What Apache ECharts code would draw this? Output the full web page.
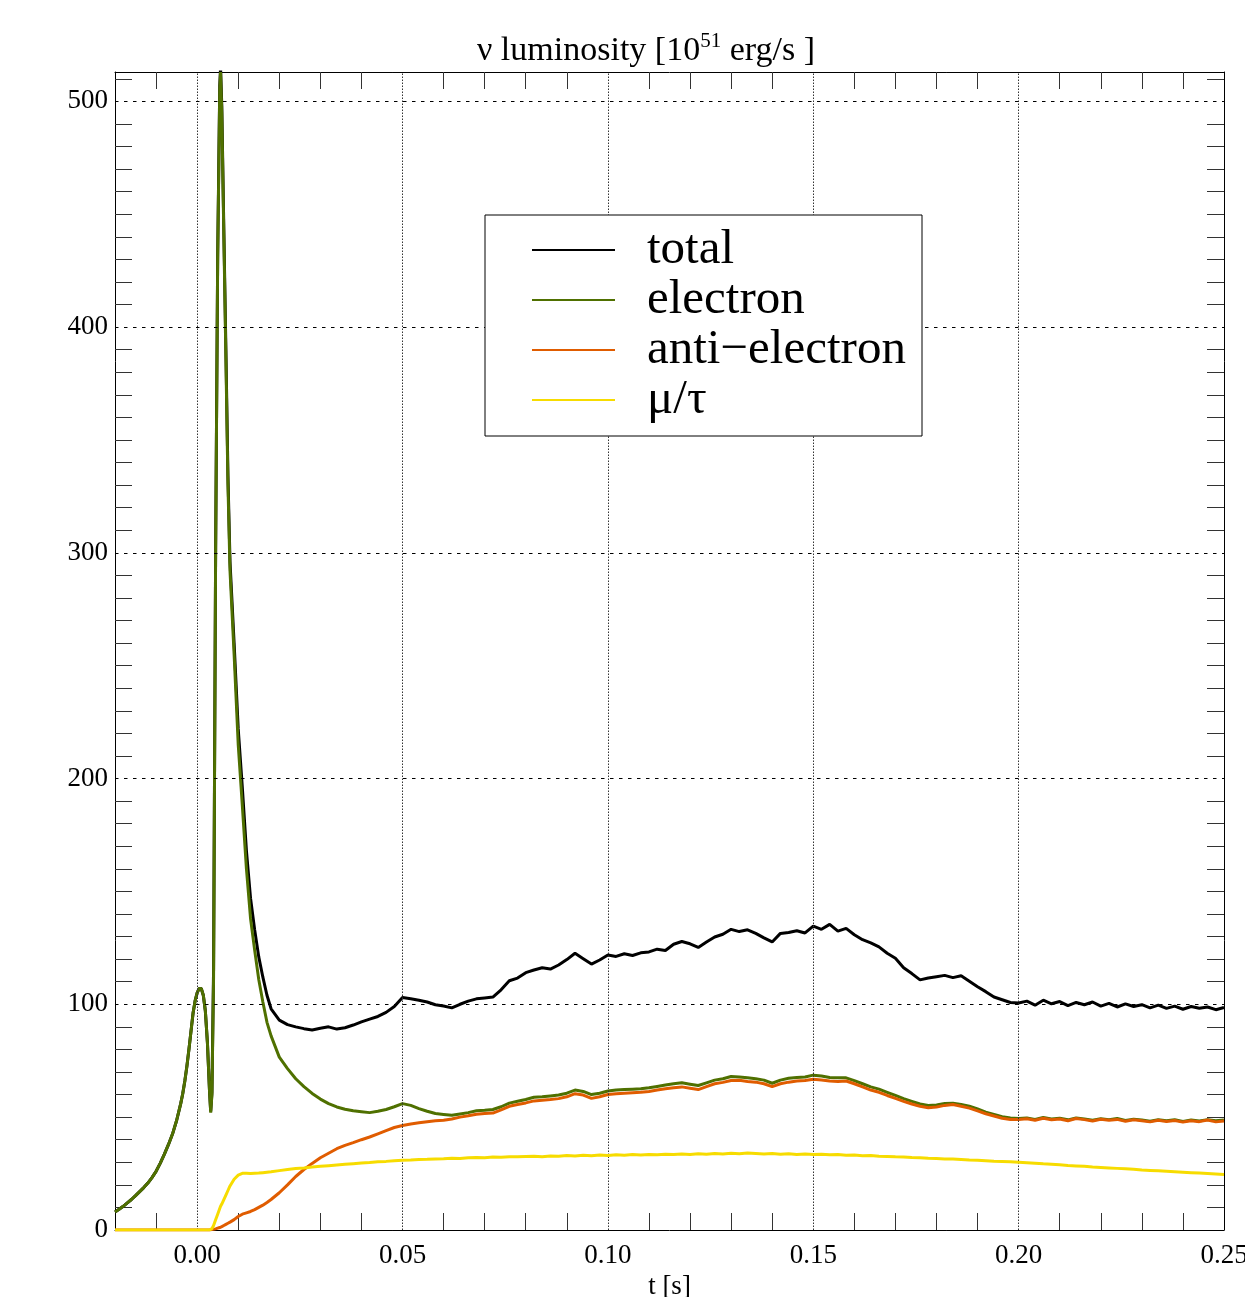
<!DOCTYPE html>
<html>
<head>
<meta charset="utf-8">
<script src="https://cdn.jsdelivr.net/npm/echarts@6/dist/echarts.min.js"></script>
<style>
html,body{margin:0;padding:0;background:#fff;}
#chart{width:1245px;height:1297px;}
</style>
</head>
<body>
<div id="chart"></div>
<script>
// ---------- DATA ----------
const seriesNames = ['total', 'electron', 'anti\u2212electron', '\u03bc/\u03c4'];

// time samples [s]
const tSamples = [
  -0.020, -0.019, -0.018, -0.017, -0.016, -0.015, -0.014, -0.013, -0.012, -0.011,
  -0.010, -0.009, -0.008, -0.007, -0.006, -0.005, -0.004, -0.0035, -0.003, -0.0025,
  -0.002, -0.0015, -0.001, -0.0005, 0.000, 0.0005, 0.001, 0.0015, 0.002, 0.0025,
  0.003, 0.0033, 0.0036, 0.004, 0.0045, 0.005, 0.0055, 0.0057, 0.006, 0.0065,
  0.007, 0.0075, 0.008, 0.009, 0.010, 0.011, 0.012, 0.013, 0.014, 0.015,
  0.016, 0.017, 0.018,
  0.020, 0.022, 0.024, 0.026, 0.028, 0.030, 0.032, 0.034, 0.036, 0.038,
  0.040, 0.042, 0.044, 0.046, 0.048, 0.050, 0.052, 0.054, 0.056, 0.058,
  0.060, 0.062, 0.064, 0.066, 0.068, 0.070, 0.072, 0.074, 0.076, 0.078,
  0.080, 0.082, 0.084, 0.086, 0.088, 0.090, 0.092, 0.094, 0.096, 0.098,
  0.100, 0.102, 0.104, 0.106, 0.108, 0.110, 0.112, 0.114, 0.116, 0.118,
  0.120, 0.122, 0.124, 0.126, 0.128, 0.130, 0.132, 0.134, 0.136, 0.138,
  0.140, 0.142, 0.144, 0.146, 0.148, 0.150, 0.152, 0.154, 0.156, 0.158,
  0.160, 0.162, 0.164, 0.166, 0.168, 0.170, 0.172, 0.174, 0.176, 0.178,
  0.180, 0.182, 0.184, 0.186, 0.188, 0.190, 0.192, 0.194, 0.196, 0.198,
  0.200, 0.202, 0.204, 0.206, 0.208, 0.210, 0.212, 0.214, 0.216, 0.218,
  0.220, 0.222, 0.224, 0.226, 0.228, 0.230, 0.232, 0.234, 0.236, 0.238,
  0.240, 0.242, 0.244, 0.246, 0.248, 0.250
];

const totalLum = [
  8, 9.2, 10.5, 12, 13.5, 15.2, 17, 18.8, 20.8, 23.2,
  26, 29.5, 33.5, 37.8, 42.5, 48.5, 56, 60.5, 66, 72.5,
  80, 88, 96, 101.5, 105, 107, 107, 104, 97, 83,
  62, 52.5, 61, 116, 302, 432, 507, 515, 498, 443,
  390, 334, 296, 260, 222, 196, 168, 147, 133, 121,
  112, 104, 98,
  93, 91, 90, 89.2, 88.6, 89.4, 90, 89, 89.6, 90.8,
  92.2, 93.4, 94.6, 96.4, 99, 103, 102.4, 101.8, 101, 99.8,
  99.2, 98.4, 100, 101.4, 102.4, 102.8, 103.2, 106.4, 110.4, 111.6,
  114, 115.2, 116.2, 115.6, 117.4, 119.8, 122.6, 120.2, 117.8, 119.6,
  121.8, 121.2, 122.4, 121.6, 122.8, 123.2, 124.4, 123.8, 126.6, 127.8,
  126.8, 125.2, 127.6, 129.8, 131, 133.2, 132.2, 133, 131.4, 129.4,
  127.6, 131.4, 131.8, 132.6, 131.6, 134.6, 133.2, 135.4, 132.4, 133.6,
  130.8, 128.6, 127.2, 125.4, 122.6, 120.4, 116.2, 113.6, 110.8, 111.6,
  112.2, 112.8, 111.8, 112.6, 110.2, 107.8, 105.6, 103.2, 102, 100.8,
  100.6, 101.4, 99.6, 101.8, 100.2, 101.2, 99.4, 100.8, 99.8, 101,
  99.2, 100.4, 98.8, 100.2, 99, 99.8, 98.4, 99.6, 98.2, 99.2,
  97.8, 99, 98.2, 98.8, 97.6, 98.6
];

const electronLum = [
  8, 9.2, 10.5, 12, 13.5, 15.2, 17, 18.8, 20.8, 23.2,
  26, 29.5, 33.5, 37.8, 42.5, 48.5, 56, 60.5, 66, 72.5,
  80, 88, 96, 101.5, 105, 107, 107, 104, 97, 83,
  62, 52, 60, 112, 300, 430, 505, 513, 495, 440,
  386, 330, 292, 255, 215, 188, 160, 138, 124, 111,
  101, 92, 86,
  76.6, 71.5, 67, 63.5, 60.5, 58, 56, 54.5, 53.5, 52.8,
  52.4, 52, 52.6, 53.4, 54.6, 56, 55.2, 53.8, 52.6, 51.6,
  51.2, 50.8, 51.4, 52, 52.8, 53, 53.4, 54.6, 56.2, 57,
  57.8, 58.8, 59, 59.4, 59.8, 60.6, 62, 61.4, 60, 60.6,
  61.6, 62, 62.2, 62.4, 62.6, 63, 63.6, 64.2, 64.8, 65.2,
  64.6, 64, 65.2, 66.4, 67, 68, 67.8, 67.4, 67, 66.4,
  65, 66.4, 67.2, 67.6, 67.8, 68.6, 68.2, 67.6, 67.4, 67.4,
  66.2, 64.8, 63.4, 62.4, 61, 59.6, 58.2, 57, 55.8, 55.2,
  55.4, 56, 56.2, 55.6, 54.8, 53.6, 52.2, 51.2, 50.2, 49.6,
  49.4, 49.6, 49, 49.8, 49.2, 49.5, 48.8, 49.6, 49.2, 48.6,
  49.3, 48.9, 49.4, 48.5, 49.1, 48.7, 48.2, 48.9, 48.4, 48.8,
  48.1, 48.7, 48.3, 48.9, 48.4, 48.7
];

const antiElectronLum = [
  0, 0, 0, 0, 0, 0, 0, 0, 0, 0,
  0, 0, 0, 0, 0, 0, 0, 0, 0, 0,
  0, 0, 0, 0, 0, 0, 0, 0, 0, 0,
  0, 0.1, 0.2, 0.3, 0.5, 0.8, 1.1, 1.2, 1.5, 2,
  2.5, 3, 3.5, 4.6, 6, 7, 7.6, 8.2, 9, 10,
  11, 12.2, 13.5,
  16.5, 20, 23.7, 26.8, 29.5, 32, 34, 36, 37.5, 38.7,
  40, 41.2, 42.6, 44, 45.4, 46.3, 47, 47.5, 48, 48.4,
  48.6, 49.2, 50, 50.6, 51.3, 51.6, 51.8, 53.2, 54.8, 55.6,
  56.3, 57.2, 57.5, 57.8, 58.2, 59, 60.4, 59.8, 58.3, 59,
  60, 60.4, 60.6, 60.8, 61, 61.4, 62, 62.6, 63, 63.4,
  62.8, 62.2, 63.5, 64.8, 65.4, 66.2, 66.3, 65.8, 65.5, 64.8,
  63.5, 64.8, 65.5, 66, 66.2, 66.8, 66.5, 66, 65.8, 66,
  64.8, 63.4, 62, 61, 59.6, 58.3, 57, 55.8, 54.8, 54.2,
  54.5, 55.2, 55.6, 54.8, 54, 52.8, 51.5, 50.5, 49.5, 49,
  49, 49.3, 48.6, 49.5, 48.8, 49.2, 48.4, 49.4, 48.9, 48.3,
  49.1, 48.6, 49, 48.2, 48.8, 48.4, 47.9, 48.6, 48.1, 48.5,
  47.8, 48.4, 48, 48.7, 47.9, 48.3
];

const muTauLum = [
  0, 0, 0, 0, 0, 0, 0, 0, 0, 0,
  0, 0, 0, 0, 0, 0, 0, 0, 0, 0,
  0, 0, 0, 0, 0, 0, 0, 0, 0, 0,
  0, 0.2, 0.6, 2, 4.5, 7, 9.5, 10.5, 11.5, 13.5,
  15.5, 17.5, 19.5, 22.5, 24.3, 25.1, 25.1, 25, 25.1, 25.2,
  25.4, 25.6, 25.8,
  26.3, 26.8, 27.2, 27.5, 27.9, 28.2, 28.5, 28.8, 29.1, 29.4,
  29.7, 29.9, 30.2, 30.4, 30.7, 30.9, 31, 31.2, 31.3, 31.5,
  31.6, 31.8, 31.7, 32, 32.1, 32, 32.3, 32.2, 32.5, 32.4,
  32.6, 32.7, 32.5, 32.8, 32.7, 33, 32.8, 33.1, 32.9, 33.2,
  33, 33.3, 33.1, 33.4, 33.2, 33.5, 33.3, 33.6, 33.4, 33.7,
  33.5, 33.8, 33.6, 33.9, 33.7, 34, 33.8, 34.1, 33.9, 33.7,
  33.9, 33.6, 33.8, 33.5, 33.7, 33.4, 33.6, 33.3, 33.4, 33.1,
  33.2, 32.9, 33, 32.7, 32.6, 32.4, 32.3, 32.1, 32, 31.8,
  31.7, 31.5, 31.4, 31.2, 31, 30.9, 30.7, 30.5, 30.4, 30.2,
  30, 29.8, 29.6, 29.3, 29.1, 28.9, 28.6, 28.4, 28.2, 27.9,
  27.7, 27.5, 27.3, 27.1, 26.9, 26.6, 26.4, 26.2, 26, 25.8,
  25.6, 25.4, 25.2, 25, 24.8, 24.6
];

// axis ticks / labels
const xMajorTicks = [0, 0.05, 0.10, 0.15, 0.20, 0.25];
const xMinorTicks = [-0.01, 0.01, 0.02, 0.03, 0.04, 0.06, 0.07, 0.08, 0.09, 0.11, 0.12,
  0.13, 0.14, 0.16, 0.17, 0.18, 0.19, 0.21, 0.22, 0.23, 0.24];
const xGridLines = [0, 0.05, 0.10, 0.15, 0.20];
const yMajorTicks = [0, 100, 200, 300, 400, 500];
const yMinorTicks = [10, 20, 30, 40, 50, 60, 70, 80, 90,
  110, 120, 130, 140, 150, 160, 170, 180, 190,
  210, 220, 230, 240, 250, 260, 270, 280, 290,
  310, 320, 330, 340, 350, 360, 370, 380, 390,
  410, 420, 430, 440, 450, 460, 470, 480, 490, 510];
const yGridLines = [100, 200, 300, 400, 500];

// ---------- CHART ----------
const FONT = '"Liberation Serif", "Times New Roman", serif';
const colors = ['#000000', '#4f7000', '#e05c00', '#f7dc00'];
const chart = echarts.init(document.getElementById('chart'));

function pairs(vals) { return tSamples.map((t, i) => [t, vals[i]]); }
function isMult(v, step) { const r = v / step; return Math.abs(r - Math.round(r)) < 1e-6; }

const xAxisBase = {
  type: 'value', min: -0.02, max: 0.25, interval: 0.01,
  axisLine: { show: true, onZero: false, lineStyle: { color: '#000', width: 1 } },
  axisTick: { show: true, inside: true, length: 17, customValues: xMinorTicks, lineStyle: { color: '#333', width: 1 } },
  splitLine: { show: false }
};
const yAxisBase = {
  type: 'value', min: 0, max: 513, interval: 10,
  axisLine: { show: true, onZero: false, lineStyle: { color: '#000', width: 1 } },
  axisTick: { show: true, inside: true, length: 17, customValues: yMinorTicks, lineStyle: { color: '#333', width: 1 } },
  splitLine: { show: false }
};

const gridMarks = xGridLines.map(v => ({ xAxis: v, lineStyle: { type: [1.5, 1.5], color: '#333', width: 1 } }))
  .concat(yGridLines.map(v => ({ yAxis: v, lineStyle: { type: [3.5, 5.5], color: '#000', width: 1 } })));

const seriesVals = [totalLum, electronLum, antiElectronLum, muTauLum];

const option = {
  backgroundColor: '#ffffff',
  animation: false,
  color: colors,
  title: {
    text: '{a|\u03bd luminosity [10}{b|51}{a| erg/s ]}',
    left: 477, top: 31, padding: 0,
    textStyle: {
      fontWeight: 'normal',
      rich: {
        a: { fontFamily: FONT, fontSize: 34, fontWeight: 'normal', color: '#000', lineHeight: 40 },
        b: { fontFamily: FONT, fontSize: 21, fontWeight: 'normal', color: '#000', lineHeight: 22, verticalAlign: 'top' }
      }
    }
  },
  grid: { left: 115, right: 21, top: 72, bottom: 67, containLabel: false, outerBoundsMode: 'none' },
  legend: {
    orient: 'vertical', left: 532, top: 225, padding: 0, itemGap: 0,
    itemWidth: 83, itemHeight: 2, icon: 'rect', selectedMode: false, z: 10,
    data: seriesNames,
    formatter: '{s| }{name}',
    textStyle: {
      fontFamily: FONT, fontSize: 49, color: '#000', lineHeight: 50,
      rich: { s: { width: 27, lineHeight: 50, fontSize: 10 } }
    }
  },
  graphic: [{
    type: 'rect', z: 8, silent: true,
    shape: { x: 485, y: 215, width: 437, height: 221 },
    style: { fill: '#ffffff', stroke: '#000', lineWidth: 1 }
  }],
  xAxis: [
    Object.assign({}, xAxisBase, {
      position: 'bottom',
      name: 't [s]', nameLocation: 'middle', nameGap: 42,
      nameTextStyle: { fontFamily: FONT, fontSize: 27, color: '#000' },
      axisLabel: {
        show: true, margin: 12, customValues: xMajorTicks,
        fontFamily: FONT, fontSize: 27, color: '#000',
        showMinLabel: true, showMaxLabel: true,
        formatter: v => isMult(v, 0.05) ? (Math.round(v * 20) / 20).toFixed(2) : ''
      }
    }),
    Object.assign({}, xAxisBase, { position: 'top', axisLabel: { show: false } })
  ],
  yAxis: [
    Object.assign({}, yAxisBase, {
      position: 'left',
      axisLabel: {
        show: true, margin: 7, customValues: yMajorTicks,
        fontFamily: FONT, fontSize: 27, color: '#000',
        formatter: v => (isMult(v, 100) ? String(Math.round(v)) : '')
      }
    }),
    Object.assign({}, yAxisBase, { position: 'right', axisLabel: { show: false } })
  ],
  series: seriesNames.map((name, i) => {
    const s = {
      name: name, type: 'line', xAxisIndex: 0, yAxisIndex: 0,
      data: pairs(seriesVals[i]),
      showSymbol: false, symbol: 'none', clip: true,
      lineStyle: { color: colors[i], width: 3 },
      itemStyle: { color: colors[i] },
      emphasis: { disabled: true },
      z: 2 + i
    };
    if (i === 0) {
      s.markLine = {
        silent: true, symbol: ['none', 'none'], animation: false,
        label: { show: false }, emphasis: { disabled: true },
        data: gridMarks
      };
      s.z = 1;
    }
    return s;
  })
};
chart.setOption(option);
</script>
</body>
</html>
